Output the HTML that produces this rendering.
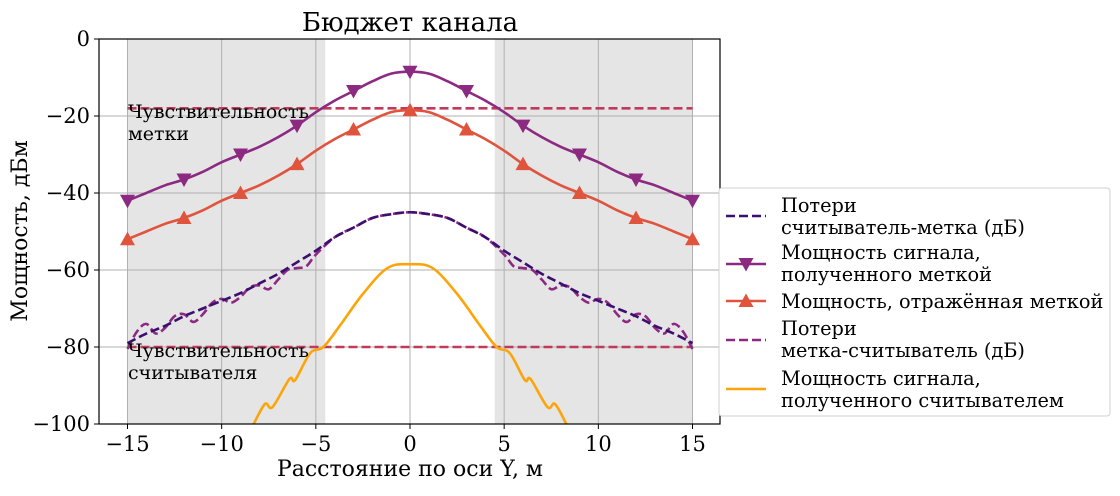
<!DOCTYPE html>
<html><head><meta charset="utf-8"><style>
body{margin:0;background:#fff;}
svg text{font-family:"DejaVu Serif","Liberation Serif",serif;fill:#000;}
</style></head><body>
<svg id="chart" width="1120" height="491" viewBox="0 0 1120 491" xmlns="http://www.w3.org/2000/svg">
<g id="plot"></g>
</svg>
<script>
const xTicks=[-15,-10,-5,0,5,10,15];
const yTicks=[0,-20,-40,-60,-80,-100];
const xs=[-15,-14,-13,-12,-11,-10,-9,-8,-7,-6,-5,-4,-3,-2,-1,0,1,2,3,4,5,6,7,8,9,10,11,12,13,14,15];
const tagRx=[-42,-40,-38,-36.5,-34.5,-32,-30,-28,-25.5,-22.5,-19,-16,-13.5,-11,-9,-8.5,-9,-11,-13.5,-16,-19,-22.5,-25.5,-28,-30,-32,-34.5,-36.5,-38,-40,-42];
const tagRefl=[-52,-50,-48,-46.5,-44.5,-42,-40,-38,-35.5,-32.5,-29,-26,-23.5,-21,-19,-18.5,-19,-21,-23.5,-26,-29,-32.5,-35.5,-38,-40,-42,-44.5,-46.5,-48,-50,-52];
const lossRT=[-79,-76.5,-74.5,-72,-70,-68,-66,-63.5,-61,-58,-55,-51.5,-49,-46.5,-45.5,-45,-45.5,-46.5,-49,-51.5,-55,-58,-61,-63.5,-66,-68,-70,-72,-74.5,-76.5,-79];
const xsW=[-15,-14.5,-14,-13.5,-13,-12.5,-12,-11.5,-11,-10.5,-10,-9.5,-9,-8.5,-8,-7.5,-7,-6.5,-6,-5.5,-5,-4,-3,-2,-1,0,1,2,3,4,5,5.5,6,6.5,7,7.5,8,8.5,9,9.5,10,10.5,11,11.5,12,12.5,13,13.5,14,14.5,15];
const lossTR=[-80.5,-76,-74,-76.5,-75,-72,-71.5,-73.5,-71.5,-68.5,-67.5,-68.5,-67,-64.5,-64,-65,-62.5,-60,-59.5,-59,-56,-51.5,-49,-46.5,-45.5,-45,-45.5,-46.5,-49,-51.5,-56,-59,-59.5,-60,-62.5,-65,-64,-64.5,-67,-68.5,-67.5,-68.5,-71.5,-73.5,-71.5,-72,-75,-76.5,-74,-76,-80.5];
const xsR=[-8.8,-8.3,-7.7,-7.3,-6.4,-6.1,-5.3,-4.6,-3.7,-2.5,-1.2,0,1.2,2.5,3.7,4.6,5.3,6.1,6.4,7.3,7.7,8.3,8.8];
const readerRx=[-105,-100,-94.8,-95.6,-88.3,-88.6,-81.6,-80,-74.3,-66.2,-59.5,-58.5,-59.5,-66.2,-74.3,-80,-81.6,-88.6,-88.3,-95.6,-94.8,-100,-105];
const markX=[-15,-12,-9,-6,-3,0,3,6,9,12,15];
const sensTag=-18, sensReader=-80;
const shadeL=[-15,-4.5], shadeR=[4.5,15];

const L=99,R=720,T=39,B=424;
const X=v=>410+v*(692-127)/30;
const Y=v=>T+(-v)*(B-T)/100;
const NS="http://www.w3.org/2000/svg";
const g=document.getElementById('plot');
function el(tag,attrs,parent){const e=document.createElementNS(NS,tag);for(const k in attrs)e.setAttribute(k,attrs[k]);(parent||g).appendChild(e);return e;}
function smooth(px,py){let d=`M${px[0]},${py[0]}`;for(let i=0;i<px.length-1;i++){const x0=px[Math.max(i-1,0)],y0=py[Math.max(i-1,0)],x1=px[i],y1=py[i],x2=px[i+1],y2=py[i+1],x3=px[Math.min(i+2,px.length-1)],y3=py[Math.min(i+2,px.length-1)];d+=` C${x1+(x2-x0)/6},${y1+(y2-y0)/6} ${x2-(x3-x1)/6},${y2-(y3-y1)/6} ${x2},${y2}`;}return d;}
const defs=el('defs',{});const cp=el('clipPath',{id:'clip'},defs);el('rect',{x:L,y:T,width:R-L,height:B-T},cp);

let s=el('rect',{x:X(shadeL[0]),y:T,width:X(shadeL[1])-X(shadeL[0]),height:B-T,fill:'#e5e5e5'});

s=el('rect',{x:X(shadeR[0]),y:T,width:X(shadeR[1])-X(shadeR[0]),height:B-T,fill:'#e5e5e5'});


xTicks.forEach(v=>{const l=el('line',{x1:X(v),x2:X(v),y1:T,y2:B,stroke:'#b0b0b0','stroke-width':1});

el('line',{x1:X(v),x2:X(v),y1:B,y2:B+5,stroke:'#000'});
const t=el('text',{x:X(v),y:B+27,'font-size':21,'text-anchor':'middle'});t.textContent=v<0?'−'+(-v):v;
});
yTicks.forEach(v=>{const l=el('line',{x1:L,x2:R,y1:Y(v),y2:Y(v),stroke:'#b0b0b0','stroke-width':1});

el('line',{x1:L-5,x2:L,y1:Y(v),y2:Y(v),stroke:'#000'});
const t=el('text',{x:L-9,y:Y(v)+7,'font-size':21,'text-anchor':'end'});t.textContent=v<0?'−'+(-v):v;
});

const C={lossRT:'#3b0f70',tagRx:'#8c2981',refl:'#e0533c',lossTR:'#8c2981',reader:'#fca50a',sens:'#c13a5a'};
const clipG=el('g',{'clip-path':'url(#clip)'});
let h=el('line',{x1:X(-15),x2:X(15),y1:Y(sensTag),y2:Y(sensTag),stroke:C.sens,'stroke-width':2.6,'stroke-dasharray':'9,4'},clipG);

h=el('line',{x1:X(-15),x2:X(15),y1:Y(sensReader),y2:Y(sensReader),stroke:C.sens,'stroke-width':2.6,'stroke-dasharray':'9,4'},clipG);


function series(xa,ya,color,dash,name){const p=el('path',{d:smooth(xa.map(X),ya.map(Y)),fill:'none',stroke:color,'stroke-width':2.6,'stroke-dasharray':dash||'none'},clipG);
}
series(xsW,lossTR,C.lossTR,'9,4','line-loss-tag-reader');
series(xs,lossRT,C.lossRT,'9,4','line-loss-reader-tag');
series(xs,tagRx,C.tagRx,null,'line-power-received-by-tag');
series(xs,tagRefl,C.refl,null,'line-power-reflected-by-tag');
series(xsR,readerRx,C.reader,null,'line-power-received-by-reader');
function tri(cx,cy,down,color,parent){const r=7.5;return el('polygon',{points:down?`${cx-r},${cy-r*0.8} ${cx+r},${cy-r*0.8} ${cx},${cy+r}`:`${cx-r},${cy+r*0.8} ${cx+r},${cy+r*0.8} ${cx},${cy-r}`,fill:color},parent||clipG);}
markX.forEach(v=>{const i=xs.indexOf(v);
let m=tri(X(v),Y(tagRx[i]),true,C.tagRx);
m=tri(X(v),Y(tagRefl[i]),false,C.refl);});

function label(x,y,lines,name){const t=el('text',{x:x,y:y,'font-size':19});
lines.forEach((s,i)=>{const ts=el('tspan',{x:x,dy:i?22:0},t);ts.textContent=s;});}
label(128,118,['Чувствительность','метки'],'tag-sensitivity-label');
label(128,357,['Чувствительность','считывателя'],'reader-sensitivity-label');

const fr=el('rect',{x:L,y:T,width:R-L,height:B-T,fill:'none',stroke:'#000','stroke-width':1.2});

let t=el('text',{x:410,y:31,'font-size':26,'text-anchor':'middle'});t.textContent='Бюджет канала';

t=el('text',{x:410,y:476,'font-size':22,'text-anchor':'middle'});t.textContent='Расстояние по оси Y, м';

t=el('text',{x:0,y:0,'font-size':22,'text-anchor':'middle',transform:'translate(27,231) rotate(-90)'});t.textContent='Мощность, дБм';


const lg=el('g',{});
el('rect',{x:719,y:188,width:391,height:228,rx:3,fill:'#fff',stroke:'#d0d0d0'},lg);
const entries=[
 {lines:['Потери','считыватель-метка (дБ)'],y:[212,234],ly:216,c:C.lossRT,dash:'9,4',m:null,n:'legend-entry-loss-reader-tag'},
 {lines:['Мощность сигнала,','полученного меткой'],y:[259,281],ly:264,c:C.tagRx,m:'down',n:'legend-entry-tag-received'},
 {lines:['Мощность, отражённая меткой'],y:[308],ly:301,c:C.refl,m:'up',n:'legend-entry-tag-reflected'},
 {lines:['Потери','метка-считыватель (дБ)'],y:[335,357],ly:340,c:C.lossTR,dash:'9,4',m:null,n:'legend-entry-loss-tag-reader'},
 {lines:['Мощность сигнала,','полученного считывателем'],y:[385,407],ly:389,c:C.reader,m:null,n:'legend-entry-reader-received'}];
entries.forEach(e=>{const eg=el('g',{},lg);
el('line',{x1:726,x2:766,y1:e.ly,y2:e.ly,stroke:e.c,'stroke-width':2.6,'stroke-dasharray':e.dash||'none'},eg);
if(e.m)tri(746,e.ly,e.m==='down',e.c,eg);
e.lines.forEach((s,i)=>{const tt=el('text',{x:781,y:e.y[i],'font-size':19.3},eg);tt.textContent=s;});});
</script>
</body></html>
